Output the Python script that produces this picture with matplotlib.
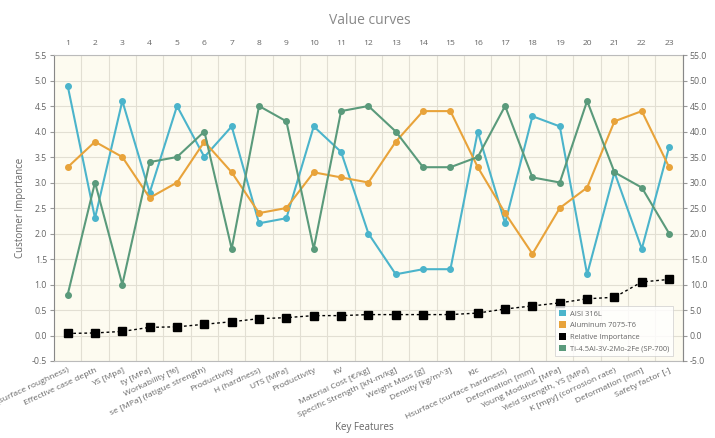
import matplotlib
matplotlib.use("Agg")
import matplotlib.pyplot as plt
from matplotlib.patches import Patch
import numpy as np

plt.rcParams['font.family'] = ['Open Sans', 'DejaVu Sans']

features = ["Ra (surface roughness)", "Effective case depth", "YS [Mpa]", "ty [MPa]",
            "Workability [%]", "se [MPa] (fatigue strength)", "Productivity", "H (hardness)",
            "UTS [MPa]", "Productivity", "KV", "Material Cost [€/kg]",
            "Specific Strength [kN-m/kg]", "Weight Mass [g]", "Density [kg/m^3]", "Klc",
            "Hsurface (surface hardness)", "Deformation [mm]", "Young Modulus [MPa]",
            "Yield Strength, YS [MPa]", "K [mpy] (corrosion rate)", "Deformation [mm]",
            "Safety factor [-]"]
top_labels = [str(i) for i in range(1, 24)]

aisi = [4.9, 2.3, 4.6, 2.8, 4.5, 3.5, 4.1, 2.2, 2.3, 4.1, 3.6, 2.0, 1.2, 1.3, 1.3,
        4.0, 2.2, 4.3, 4.1, 1.2, 3.2, 1.7, 3.7]
alu = [3.3, 3.8, 3.5, 2.7, 3.0, 3.8, 3.2, 2.4, 2.5, 3.2, 3.1, 3.0, 3.8, 4.4, 4.4,
       3.3, 2.4, 1.6, 2.5, 2.9, 4.2, 4.4, 3.3]
ti = [0.8, 3.0, 1.0, 3.4, 3.5, 4.0, 1.7, 4.5, 4.2, 1.7, 4.4, 4.5, 4.0, 3.3, 3.3,
      3.5, 4.5, 3.1, 3.0, 4.6, 3.2, 2.9, 2.0]
rel_imp = [0.4, 0.5, 0.8, 1.6, 1.7, 2.2, 2.7, 3.3, 3.5, 3.9, 3.9, 4.1, 4.1, 4.1, 4.1,
           4.4, 5.2, 5.8, 6.4, 7.2, 7.5, 10.5, 11.0]

c_aisi = "#4bb4cb"
c_alu = "#e8a33a"
c_ti = "#5a9a7b"
c_txt = "#666666"
c_grid = "#e2dfd3"

fig = plt.figure(figsize=(7.15, 4.38), dpi=100)
ax = fig.add_axes([0.0755, 0.1758, 0.8795, 0.6986])
ax.set_facecolor("#fdfbf0")
x = np.arange(1, len(features) + 1)

ax.set_xlim(0.5, len(features) + 0.5)
ax.set_ylim(-0.5, 5.5)
ax.set_yticks(np.arange(-0.5, 5.51, 0.5))
ax.set_yticklabels([f"{v:.1f}" for v in np.arange(-0.5, 5.51, 0.5)])
ax.set_xticks(x)
ax.set_xticklabels(features, rotation=25, ha="right", rotation_mode="anchor",
                   fontsize=6.1, color=c_txt)
ax.set_xticks(np.arange(0.5, len(features) + 1, 1), minor=True)
ax.grid(False)
ax.grid(True, which="minor", axis="x", color=c_grid, lw=0.8)
for yv in np.arange(-0.5, 5.51, 0.5):
    ax.axhline(yv, color=c_grid, lw=0.8, zorder=0.5)
ax.tick_params(axis="x", which="both", length=0, pad=4)
ax.tick_params(axis="y", labelsize=6.3, labelcolor=c_txt, color="#999999", length=3, pad=2)

for sp in ax.spines.values():
    sp.set_color("#bbbbbb")
    sp.set_linewidth(0.8)
ax.spines["left"].set_color("#888888")

ax.plot(x, aisi, color=c_aisi, lw=1.5, marker="o", ms=4, zorder=3)
ax.plot(x, alu, color=c_alu, lw=1.5, marker="o", ms=4, zorder=3)
ax.plot(x, ti, color=c_ti, lw=1.5, marker="o", ms=4, zorder=3)

ax.set_ylabel("Customer Importance", fontsize=7, color=c_txt, labelpad=4)
fig.text(0.51, 0.012, "Key Features", ha="center", va="bottom", fontsize=7, color=c_txt)

ax2 = ax.twinx()
ax2.set_ylim(-5, 55)
ax2.set_yticks(np.arange(-5, 55.1, 5))
ax2.set_yticklabels([f"{v:.1f}" for v in np.arange(-5, 55.1, 5)])
ax2.tick_params(axis="y", labelsize=6.3, labelcolor=c_txt, color="#999999", length=3, pad=2)
for sp in ax2.spines.values():
    sp.set_visible(False)
ax2.spines["right"].set_visible(True)
ax2.spines["right"].set_color("#888888")
ax2.plot(x, rel_imp, color="black", lw=1.0, ls=(0, (2, 2)), marker="s", ms=5.5, zorder=4)

ax3 = ax.twiny()
ax3.set_xlim(ax.get_xlim())
ax3.set_xticks(x)
ax3.set_xticklabels(top_labels, fontsize=6.1, color=c_txt)
ax3.tick_params(axis="x", length=0, pad=6)
for sp in ax3.spines.values():
    sp.set_visible(False)

handles = [Patch(facecolor=c_aisi), Patch(facecolor=c_alu), Patch(facecolor="black"),
           Patch(facecolor=c_ti)]
labels = ["AISI 316L", "Aluminum 7075-T6", "Relative Importance", "Ti-4.5Al-3V-2Mo-2Fe (SP-700)"]
leg = ax2.legend(handles, labels, loc="lower right", bbox_to_anchor=(0.99, 0.003),
                 fontsize=5.4, frameon=True, fancybox=False, handlelength=1.0,
                 handleheight=1.0, handletextpad=0.5, labelspacing=0.5, borderpad=0.5)
leg.get_frame().set_edgecolor("#cccccc")
leg.get_frame().set_linewidth(0.6)
for t in leg.get_texts():
    t.set_color(c_txt)

fig.text(0.517, 0.953, "Value curves", ha="center", va="center", fontsize=10, color="#888888")

fig.savefig("out.png", dpi=100)
